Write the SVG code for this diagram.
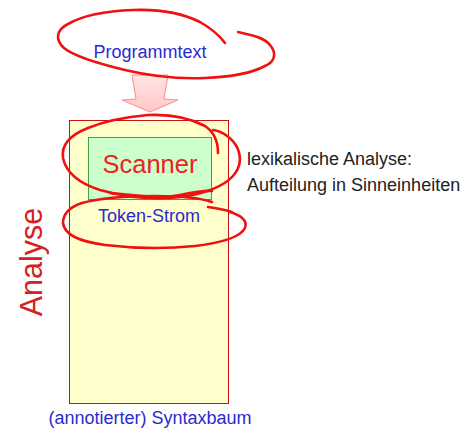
<svg xmlns="http://www.w3.org/2000/svg" width="464" height="432" viewBox="0 0 464 432">
<style>
  text { font-family: "Liberation Sans", Arial, sans-serif; }
  .blue { fill: #2a2ad0; font-size: 18px; }
  .dark { fill: #222; font-size: 18px; }
  .mark { fill: none; stroke: #f01010; stroke-width: 2.6; stroke-linecap: round; stroke-linejoin: round; }
</style>
<defs>
  <linearGradient id="ag" x1="0" y1="0" x2="0" y2="1">
    <stop offset="0" stop-color="#ffe4e4"/>
    <stop offset="1" stop-color="#ffc8c8"/>
  </linearGradient>
</defs>
<rect width="464" height="432" fill="#fff"/>

<g id="analyse">
  <rect x="69.5" y="120.5" width="159" height="283" fill="#ffffcc" stroke="#cc1111" stroke-width="1"/>
  <text transform="translate(42,262) rotate(-90)" text-anchor="middle" font-size="30.5" fill="#d42222">Analyse</text>
</g>

<g id="scanner">
  <rect x="88.5" y="137.5" width="123" height="62" fill="#ccffcc" stroke="#44a044" stroke-width="1"/>
  <text x="150" y="173" text-anchor="middle" font-size="25.5" fill="#ee2222">Scanner</text>
</g>

<g id="programmtext">
  <text class="blue" x="150" y="58" text-anchor="middle">Programmtext</text>
</g>

<g id="tokenstrom">
  <text class="blue" x="149" y="222" text-anchor="middle" font-size="17.5">Token-Strom</text>
</g>

<g id="syntaxbaum">
  <text class="blue" x="150" y="424" text-anchor="middle">(annotierter) Syntaxbaum</text>
</g>

<g id="desc">
  <text class="dark" x="247" y="165">lexikalische Analyse:</text>
  <text class="dark" x="247" y="191">Aufteilung in Sinneinheiten</text>
</g>

<g id="connectors">
  <polygon points="132,75 168,75 164,99 178,100 150,112 122,100 136,99" fill="url(#ag)" stroke="#ff8a8a" stroke-width="1"/>
</g>

<g id="annotations">
  <path class="mark" d="M238,32 C252,35 265,38 270,45 C277,53 275,62 265,66 C250,74 230,77 205,78 C180,79 150,76 125,70 C100,64 75,57 64,48 C55,40 56,30 68,24 C82,16 105,11 133,10 C160,9 182,13 200,22 C212,29 220,36 225,43"/>
  <path class="mark" d="M213,130 C222,131 232,138 237,147 C242,158 240,168 233,176 C224,186 205,194 180,197 C155,200 125,197 100,190 C78,183 66,172 63,158 C61,145 70,135 88,128 C105,121 125,117 148,115 C170,114 190,118 205,126 C214,132 218,142 218,153"/>
  <path class="mark" d="M110,193 C140,196 160,199 180,195 C195,192 205,190 212,191"/>
  <path class="mark" d="M232,212 C222,209 215,208 208,207 M212,202 C200,198 180,196 155,196 C125,196 100,198 82,203 C70,207 63,214 63,223 C64,233 75,241 105,245 C130,248 165,249 195,246 C220,243 240,238 245,228 C248,220 240,215 230,212"/>
</g>
</svg>
